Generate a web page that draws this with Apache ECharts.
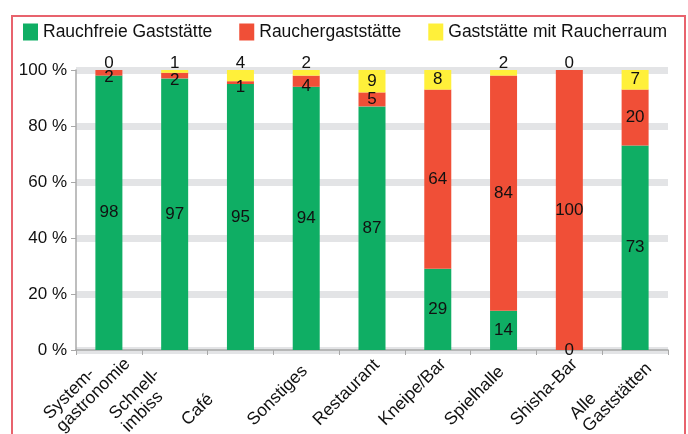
<!DOCTYPE html>
<html>
<head>
<meta charset="utf-8">
<script src="https://cdn.jsdelivr.net/npm/echarts@6/dist/echarts.min.js"></script>
<style>
html,body{margin:0;padding:0;background:#fff;overflow:hidden;}
#frame{position:absolute;left:11px;top:15px;width:675px;height:440px;border:2px solid #e8636d;box-sizing:border-box;}
#chart{position:absolute;left:0;top:0;width:688px;height:434px;}
</style>
</head>
<body>
<div id="frame"></div>
<div id="chart"></div>
<script>
const categories = ['System-\ngastronomie','Schnell-\nimbiss','Café','Sonstiges','Restaurant','Kneipe/Bar','Spielhalle','Shisha-Bar','Alle\nGaststätten'];
const rauchfrei = [98,97,95,94,87,29,14,0,73];
const raucher = [2,2,1,4,5,64,84,100,20];
const raucherraum = [0,1,4,2,9,8,2,0,7];
const yTicks = [0,20,40,60,80,100];

const FONT = '"Liberation Sans","Arial",sans-serif';
const chart = echarts.init(document.getElementById('chart'));
const lbl = {show:true,position:'inside',color:'#111',fontSize:17,fontFamily:FONT,formatter:'{c}'};
function mk(name,data,color){
  return {name,type:'bar',stack:'s',data,barWidth:27,itemStyle:{color},label:lbl,emphasis:{disabled:true}};
}
const yellowData = raucherraum.map(v => v <= 4 ? {value:v,label:{position:'top',distance:-2}} : v);
const redData = raucher.map(v => v <= 4 ? {value:v,label:{offset:[0,5]}} : v);

chart.setOption({
  animation:false,
  textStyle:{fontFamily:FONT},
  legend:{left:18,top:18,itemWidth:15,itemHeight:17,itemGap:27,icon:'rect',
    textStyle:{fontSize:17.5,color:'#111',fontFamily:FONT},
    data:['Rauchfreie Gaststätte','Rauchergaststätte','Gaststätte mit Raucherraum']},
  grid:{left:76,right:20,top:70,bottom:84,outerBoundsMode:'none',containLabel:false},
  xAxis:{type:'category',data:categories,
    axisLine:{lineStyle:{color:'#a8a8a8',width:1.5}},
    axisTick:{show:true,length:5,lineStyle:{color:'#a8a8a8'}},
    axisLabel:{rotate:45,color:'#111',fontFamily:FONT,margin:17,interval:0,
      formatter:v=>v.split('\n').map(s=>'{a|'+s+'}').join('\n'),
      rich:{a:{width:79,align:'left',fontSize:17.5,lineHeight:18,color:'#111',fontFamily:FONT}}}},
  yAxis:{type:'value',min:0,max:100,interval:20,
    axisLine:{show:true,lineStyle:{color:'#a8a8a8',width:1.5}},
    axisTick:{show:true,length:5,lineStyle:{color:'#a8a8a8'}},
    axisLabel:{fontSize:17,color:'#111',fontFamily:FONT,margin:9,
      formatter:v=>yTicks.includes(v)?v+' %':''},
    splitLine:{show:true,lineStyle:{color:'#e3e4e6',width:7}}},
  series:[
    mk('Rauchfreie Gaststätte',rauchfrei,'#0fae64'),
    mk('Rauchergaststätte',redData,'#f04f37'),
    mk('Gaststätte mit Raucherraum',yellowData,'#fff03a')
  ]
});
</script>
</body>
</html>
